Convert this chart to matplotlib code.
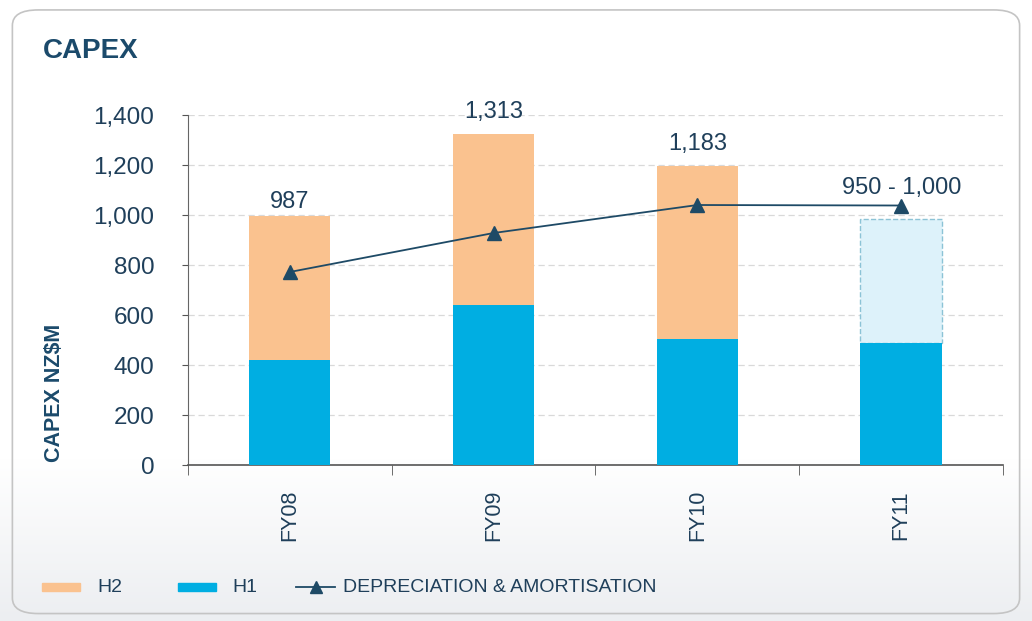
import numpy as np
import matplotlib
matplotlib.use('Agg')
import matplotlib.pyplot as plt
from matplotlib.patches import FancyBboxPatch, Rectangle
from matplotlib.lines import Line2D

plt.rcParams['font.family'] = ['Liberation Sans', 'DejaVu Sans']

# Data
years = ['FY08', 'FY09', 'FY10', 'FY11']
h1 = [420, 640, 505, 488]
h2 = [575, 685, 690, 0]
fy11_forecast_top = 985
dep_amort = [772, 928, 1040, 1038]
total_labels = ['987', '1,313', '1,183', '950 - 1,000']
label_y = [1010, 1370, 1240, 1065]

c_h2 = '#FAC28F'
c_h1 = '#00AEE2'
c_fc = '#DDF2FA'
c_line = '#1E4A66'
c_text = '#1F3F5A'

fig = plt.figure(figsize=(10.32, 6.21), dpi=100)

# background: soft gradient at the bottom and rounded panel border
bg = fig.add_axes([0, 0, 1, 1], zorder=-2)
grad = np.linspace(0, 1, 256).reshape(-1, 1)
cmap = matplotlib.colors.LinearSegmentedColormap.from_list('g', ['#ECEEF1', '#FFFFFF'])
bg.imshow(grad, aspect='auto', extent=[0, 1, 0, 0.26], origin='lower', cmap=cmap)
bg.set_xlim(0, 1)
bg.set_ylim(0, 1)
bg.axis('off')
panel = FancyBboxPatch((0.012, 0.012), 0.976, 0.972, boxstyle='round,pad=0,rounding_size=0.025',
                       transform=fig.transFigure, facecolor='none', edgecolor='#C4C4C4', linewidth=1.2)
fig.patches.append(panel)

ax = fig.add_axes([0.182, 0.2512, 0.790, 0.5636])
ax.patch.set_alpha(0)
x = np.arange(len(years))
w = 0.4

ax.bar(x, h1, width=w, color=c_h1, zorder=3)
ax.bar(x[:3], h2[:3], bottom=h1[:3], width=w, color=c_h2, zorder=3)
# FY11 forecast range (dashed light box)
ax.bar(x[3], fy11_forecast_top - h1[3], bottom=h1[3], width=w, color=c_fc,
       edgecolor='#8CC3D6', linestyle='--', linewidth=1.0, zorder=2)

ax.plot(x, dep_amort, color=c_line, linewidth=1.3, marker='^', markersize=10, zorder=5)

for i, lab in enumerate(total_labels):
    ax.text(x[i], label_y[i], lab, ha='center', va='bottom', fontsize=17, color=c_text, zorder=6)

ax.set_xlim(-0.5, 3.5)
ax.set_ylim(0, 1400)
ax.set_yticks(range(0, 1401, 200))
ax.set_yticklabels([f'{v:,}' for v in range(0, 1401, 200)], fontsize=17.5, color=c_text)
ax.yaxis.grid(True, linestyle=(0, (5, 3)), color='#D9D9D9', linewidth=0.9, zorder=0)
ax.set_axisbelow(True)

ax.set_xticks(x)
ax.set_xticklabels(years, rotation=90, fontsize=15.5, color=c_text)
ax.set_xticks(np.arange(-0.5, 4, 1), minor=True)
ax.tick_params(axis='x', which='major', length=0, pad=18)
ax.tick_params(axis='x', which='minor', length=7, color='#555555', direction='out')
ax.tick_params(axis='y', length=4, color='#555555', pad=20)

for s in ['top', 'right']:
    ax.spines[s].set_visible(False)
ax.spines['left'].set_color('#666666')
ax.spines['bottom'].set_color('#555555')
ax.spines['bottom'].set_linewidth(1.2)

fig.text(0.042, 0.918, 'CAPEX', fontsize=20, fontweight='bold', color='#1B4A6B', va='center')
fig.text(0.053, 0.367, 'CAPEX NZ$M', rotation=90, fontsize=15.5, fontweight='bold',
         color='#1B4A6B', ha='center', va='center')

# legend, placed by hand in figure coordinates
ly = 1 - 587 / 621
fig.patches.append(Rectangle((42 / 1032, ly - 0.006), 38 / 1032, 0.012, color=c_h2,
                             transform=fig.transFigure))
fig.text(97 / 1032, ly, 'H2', fontsize=14, color=c_text, va='center')
fig.patches.append(Rectangle((178 / 1032, ly - 0.006), 38 / 1032, 0.012, color=c_h1,
                             transform=fig.transFigure))
fig.text(232 / 1032, ly, 'H1', fontsize=14, color=c_text, va='center')
fig.lines.append(Line2D([296 / 1032, 335 / 1032], [ly, ly], color=c_line, linewidth=1.3,
                        transform=fig.transFigure))
fig.lines.append(Line2D([315.5 / 1032], [ly], color=c_line, marker='^', markersize=8,
                        transform=fig.transFigure))
fig.text(343 / 1032, ly, 'DEPRECIATION & AMORTISATION', fontsize=14, color=c_text, va='center')

fig.savefig('out.png', dpi=100)
